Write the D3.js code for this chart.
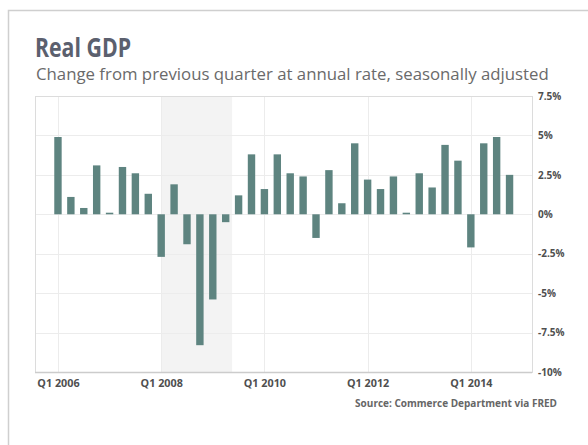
<!DOCTYPE html>
<html>
<head>
<meta charset="utf-8">
<script src="https://cdn.jsdelivr.net/npm/d3@7"></script>
<style>
body { margin: 0; background: #fff; }
svg { font-family: "Open Sans", sans-serif; }
</style>
</head>
<body>
<div id="chart"></div>
<script>
// quarterly data, Q1 2006 .. Q4 2014
var quarters = [];
for (var yr = 2006; yr <= 2014; yr++) {
  for (var q = 1; q <= 4; q++) quarters.push("Q" + q + " " + yr);
}
var growth = [4.9, 1.1, 0.4, 3.1,
              0.1, 3.0, 2.6, 1.3,
              -2.7, 1.9, -1.9, -8.3,
              -5.4, -0.5, 1.2, 3.8,
              1.6, 3.8, 2.6, 2.4,
              -1.5, 2.8, 0.7, 4.5,
              2.2, 1.6, 2.4, 0.1,
              2.6, 1.7, 4.4, 3.4,
              -2.1, 4.5, 4.9, 2.5];
var yTicks = [7.5, 5, 2.5, 0, -2.5, -5, -7.5, -10];
var xTickLabels = ["Q1 2006", "Q1 2008", "Q1 2010", "Q1 2012", "Q1 2014"];
var recession = ["Q1 2008", "Q2 2009"];

var W = 588, H = 445;
var margin = {top: 96, right: 56, bottom: 73, left: 35},
    width = W - margin.left - margin.right,
    height = H - margin.top - margin.bottom;

var svg = d3.select("#chart").append("svg")
    .attr("width", W)
    .attr("height", H);

// outer card border
svg.append("path")
    .attr("d", "M8.5," + H + "V10.5H" + W)
    .attr("fill", "none")
    .attr("stroke", "#cfcfcf")
    .attr("stroke-width", 1.5);

svg.append("text")
    .attr("x", 35).attr("y", 57)
    .attr("font-size", 27)
    .attr("font-weight", 700)
    .attr("textLength", 96)
    .attr("lengthAdjust", "spacingAndGlyphs")
    .attr("fill", "#5b606e")
    .text("Real GDP");

svg.append("text")
    .attr("x", 36).attr("y", 80)
    .attr("font-size", 16.8)
    .attr("fill", "#6a6a6a")
    .text("Change from previous quarter at annual rate, seasonally adjusted");

var g = svg.append("g")
    .attr("transform", "translate(" + margin.left + "," + margin.top + ")");

var x = d3.scaleLinear().domain([-1.78, 36.74]).range([0, width]);
var y = d3.scaleLinear().domain([-10, 7.5]).range([height, 0]);

// recession shading
var r0 = quarters.indexOf(recession[0]), r1 = quarters.indexOf(recession[1]) + 0.5;
g.append("rect")
    .attr("x", x(r0)).attr("y", 0)
    .attr("width", x(r1) - x(r0)).attr("height", height)
    .attr("fill", "#f3f3f3");

// grid
g.selectAll(".hgrid").data(yTicks).enter().append("line")
    .attr("x1", 0).attr("x2", width)
    .attr("y1", function(d) { return Math.round(y(d)) + 0.5; })
    .attr("y2", function(d) { return Math.round(y(d)) + 0.5; })
    .attr("stroke", "#ececec");

g.selectAll(".vgrid").data(xTickLabels).enter().append("line")
    .attr("x1", function(d) { return Math.round(x(quarters.indexOf(d))) + 0.5; })
    .attr("x2", function(d) { return Math.round(x(quarters.indexOf(d))) + 0.5; })
    .attr("y1", 0).attr("y2", height)
    .attr("stroke", "#ececec");

// frame
g.append("rect")
    .attr("x", 0.5).attr("y", 0.5)
    .attr("width", width).attr("height", height)
    .attr("fill", "none")
    .attr("stroke", "#dcdcdc");
g.append("line")
    .attr("x1", 0).attr("x2", width)
    .attr("y1", height + 0.5).attr("y2", height + 0.5)
    .attr("stroke", "#cccccc").attr("stroke-width", 1.5);

// bars
var bw = 7.4;
g.selectAll(".bar").data(growth).enter().append("rect")
    .attr("class", "bar")
    .attr("x", function(d, i) { return x(i) - bw / 2; })
    .attr("width", bw)
    .attr("y", function(d) { return y(Math.max(0, d)); })
    .attr("height", function(d) { return Math.abs(y(d) - y(0)); })
    .attr("fill", "#5e8480");

// y axis on the right
var yAxis = d3.axisRight(y).tickValues(yTicks).tickSize(0).tickPadding(6)
    .tickFormat(function(d) { return d + "%"; });
var ya = g.append("g")
    .attr("transform", "translate(" + width + ",0)")
    .call(yAxis);
ya.select(".domain").remove();
ya.selectAll("text")
    .attr("font-family", "Open Sans, sans-serif")
    .attr("font-size", 10)
    .attr("font-weight", 700)
    .attr("fill", "#4f4f4f");

// x axis
var xAxis = d3.axisBottom(x)
    .tickValues(xTickLabels.map(function(d) { return quarters.indexOf(d); }))
    .tickSize(0).tickPadding(7)
    .tickFormat(function(d) { return quarters[d]; });
var xa = g.append("g")
    .attr("transform", "translate(0," + height + ")")
    .call(xAxis);
xa.select(".domain").remove();
xa.selectAll("text")
    .attr("font-family", "Open Sans, sans-serif")
    .attr("font-size", 10.8)
    .attr("font-weight", 700)
    .attr("fill", "#4f4f4f");

svg.append("text")
    .attr("x", 557).attr("y", 407)
    .attr("text-anchor", "end")
    .attr("font-size", 10)
    .attr("font-weight", 700)
    .attr("fill", "#666")
    .text("Source: Commerce Department via FRED");
</script>
</body>
</html>
